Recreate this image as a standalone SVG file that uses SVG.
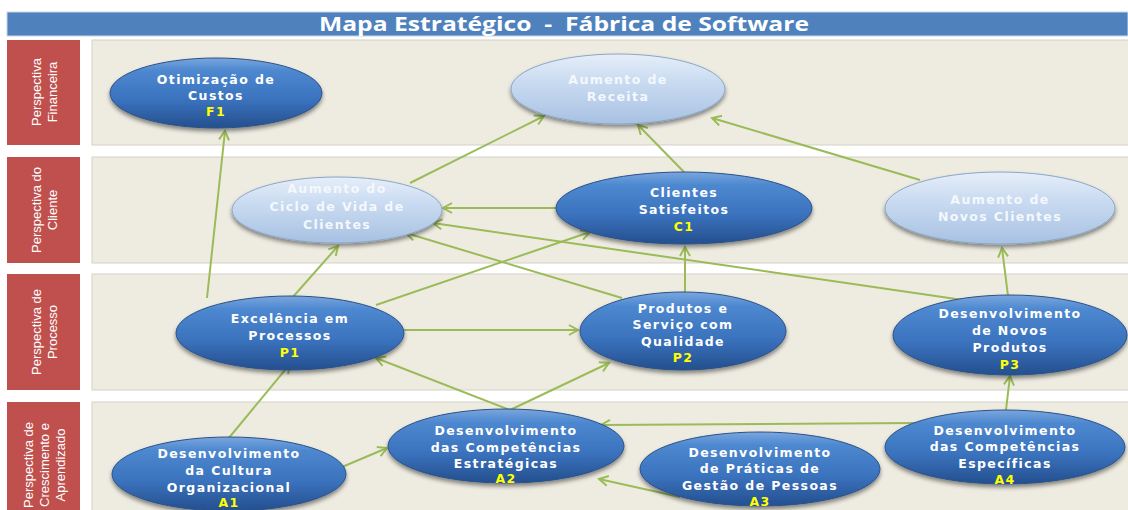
<svg xmlns="http://www.w3.org/2000/svg" width="1128" height="510" viewBox="0 0 1128 510">
<style>
.panel{fill:#eeece1;stroke:#d4d2c8;stroke-width:1}
.lab{fill:#c0504d}
.labt{font-family:"Liberation Sans Narrow","Liberation Sans",sans-serif;font-size:13px;fill:#ffffff;text-anchor:middle}
.dark{fill:url(#gDark);stroke:#2a5189;stroke-width:1;filter:url(#sh)}
.light{fill:url(#gLight);stroke:#8aa6c8;stroke-width:1;filter:url(#sh)}
.nt{font-family:"DejaVu Sans",Verdana,sans-serif;font-weight:bold;font-size:12.5px;letter-spacing:1.4px;fill:#ffffff;text-anchor:middle}
.lt{fill:#f4f8fd}
.code{fill:#ffff00}
.c{stroke:#9bbb59;stroke-width:2;fill:none;marker-end:url(#ah)}
</style>
<defs>
<linearGradient id="gDark" x1="0" y1="0" x2="0" y2="1">
<stop offset="0" stop-color="#7aa6dd"/>
<stop offset="0.18" stop-color="#4d88d0"/>
<stop offset="0.6" stop-color="#3a72bd"/>
<stop offset="1" stop-color="#244f8e"/>
</linearGradient>
<linearGradient id="gLight" x1="0" y1="0" x2="0" y2="1">
<stop offset="0" stop-color="#e6eef9"/>
<stop offset="0.4" stop-color="#c9dbf1"/>
<stop offset="1" stop-color="#a8c1e2"/>
</linearGradient>
<filter id="sh" x="-10%" y="-10%" width="120%" height="140%">
<feDropShadow dx="0" dy="3" stdDeviation="2" flood-color="#000" flood-opacity="0.45"/>
</filter>
<marker id="ah" markerUnits="userSpaceOnUse" markerWidth="14" markerHeight="14" refX="10" refY="6" orient="auto">
<path d="M1,1 L10,6 L1,11" fill="none" stroke="#9bbb59" stroke-width="2"/>
</marker>
</defs>
<rect width="1128" height="510" fill="#ffffff"/>
<g id="title">
<rect x="7" y="12" width="1121" height="24" fill="#4f81bd" stroke="#c9d6e8" stroke-width="1"/>
<text x="564" y="31" font-family="'Open Sans',sans-serif" font-weight="bold" font-size="20" fill="#ffffff" text-anchor="middle" textLength="490" lengthAdjust="spacingAndGlyphs" xml:space="preserve">Mapa Estratégico  -  Fábrica de Software</text>
</g>
<g id="rows">
<rect class="panel" x="92" y="40" width="1040" height="105"/>
<rect class="panel" x="92" y="157" width="1040" height="106"/>
<rect class="panel" x="92" y="274" width="1040" height="116"/>
<rect class="panel" x="92" y="402" width="1040" height="120"/>
</g>
<g id="label-financeira">
<rect class="lab" x="7" y="40" width="73" height="105"/>
<text class="labt" transform="translate(43.5,92) rotate(-90)"><tspan x="0" y="-3">Perspectiva</tspan><tspan x="0" y="13">Financeira</tspan></text>
</g>
<g id="label-cliente">
<rect class="lab" x="7" y="157" width="73" height="106"/>
<text class="labt" transform="translate(43.5,210) rotate(-90)"><tspan x="0" y="-3">Perspectiva do</tspan><tspan x="0" y="13">Cliente</tspan></text>
</g>
<g id="label-processo">
<rect class="lab" x="7" y="274" width="73" height="116"/>
<text class="labt" transform="translate(43.5,332) rotate(-90)"><tspan x="0" y="-3">Perspectiva de</tspan><tspan x="0" y="13">Processo</tspan></text>
</g>
<g id="label-aprendizado">
<rect class="lab" x="7" y="402" width="73" height="120"/>
<text class="labt" transform="translate(43.5,465) rotate(-90)"><tspan x="0" y="-11">Perspectiva de</tspan><tspan x="0" y="5">Crescimento e</tspan><tspan x="0" y="21">Aprendizado</tspan></text>
</g>
<g id="connectors">
<line class="c" x1="207" y1="298" x2="225" y2="131"/>
<line class="c" x1="410" y1="183" x2="544" y2="116"/>
<line class="c" x1="684" y1="172" x2="638" y2="125"/>
<line class="c" x1="920" y1="180" x2="712" y2="118"/>
<line class="c" x1="556" y1="208" x2="443" y2="208"/>
<line class="c" x1="963" y1="300" x2="433" y2="223"/>
<line class="c" x1="622" y1="298" x2="406" y2="233"/>
<line class="c" x1="292" y1="298" x2="338" y2="246"/>
<line class="c" x1="376" y1="305" x2="590" y2="232"/>
<line class="c" x1="685" y1="293" x2="685" y2="247"/>
<line class="c" x1="1008" y1="296" x2="1002" y2="248"/>
<line class="c" x1="404" y1="330" x2="578" y2="330"/>
<line class="c" x1="228" y1="439" x2="290" y2="364"/>
<line class="c" x1="342" y1="467" x2="387" y2="448"/>
<line class="c" x1="510" y1="410" x2="376" y2="358"/>
<line class="c" x1="510" y1="410" x2="609" y2="363"/>
<line class="c" x1="1006" y1="410" x2="1010" y2="376"/>
<line class="c" x1="918" y1="423" x2="601" y2="425"/>
<line class="c" x1="680" y1="497" x2="599" y2="479"/>
</g>
<g id="F1">
<ellipse class="dark" cx="216" cy="93" rx="106" ry="35"/>
<text class="nt"><tspan x="216" y="84">Otimização de</tspan><tspan x="216" y="100">Custos</tspan><tspan class="code" x="216" y="116">F1</tspan></text>
</g>
<g id="receita">
<ellipse class="light" cx="618" cy="89" rx="107" ry="35"/>
<text class="nt lt"><tspan x="618" y="84">Aumento de</tspan><tspan x="618" y="101">Receita</tspan></text>
</g>
<g id="ciclo">
<ellipse class="light" cx="337" cy="210" rx="105" ry="33"/>
<text class="nt lt"><tspan x="337" y="193">Aumento do</tspan><tspan x="337" y="211">Ciclo de Vida de</tspan><tspan x="337" y="229">Clientes</tspan></text>
</g>
<g id="C1">
<ellipse class="dark" cx="684" cy="208" rx="128" ry="36"/>
<text class="nt"><tspan x="684" y="197">Clientes</tspan><tspan x="684" y="214">Satisfeitos</tspan><tspan class="code" x="684" y="231">C1</tspan></text>
</g>
<g id="novos-clientes">
<ellipse class="light" cx="1000" cy="208" rx="115" ry="36"/>
<text class="nt lt"><tspan x="1000" y="204">Aumento de</tspan><tspan x="1000" y="221">Novos Clientes</tspan></text>
</g>
<g id="P1">
<ellipse class="dark" cx="290" cy="333" rx="114" ry="37"/>
<text class="nt"><tspan x="290" y="323">Excelência em</tspan><tspan x="290" y="340">Processos</tspan><tspan class="code" x="290" y="357">P1</tspan></text>
</g>
<g id="P2">
<ellipse class="dark" cx="683" cy="331" rx="103" ry="39"/>
<text class="nt"><tspan x="683" y="313">Produtos e</tspan><tspan x="683" y="329">Serviço com</tspan><tspan x="683" y="346">Qualidade</tspan><tspan class="code" x="683" y="362">P2</tspan></text>
</g>
<g id="P3">
<ellipse class="dark" cx="1010" cy="335" rx="117" ry="40"/>
<text class="nt"><tspan x="1010" y="318">Desenvolvimento</tspan><tspan x="1010" y="335">de Novos</tspan><tspan x="1010" y="352">Produtos</tspan><tspan class="code" x="1010" y="369">P3</tspan></text>
</g>
<g id="A1">
<ellipse class="dark" cx="229" cy="474" rx="117" ry="37"/>
<text class="nt"><tspan x="229" y="458">Desenvolvimento</tspan><tspan x="229" y="475">da Cultura</tspan><tspan x="229" y="492">Organizacional</tspan><tspan class="code" x="229" y="507">A1</tspan></text>
</g>
<g id="A2">
<ellipse class="dark" cx="506" cy="446" rx="118" ry="37"/>
<text class="nt"><tspan x="506" y="435">Desenvolvimento</tspan><tspan x="506" y="452">das Competências</tspan><tspan x="506" y="468">Estratégicas</tspan><tspan class="code" x="506" y="483">A2</tspan></text>
</g>
<g id="A3">
<ellipse class="dark" cx="760" cy="469" rx="120" ry="37"/>
<text class="nt"><tspan x="760" y="457">Desenvolvimento</tspan><tspan x="760" y="473">de Práticas de</tspan><tspan x="760" y="490">Gestão de Pessoas</tspan><tspan class="code" x="760" y="506">A3</tspan></text>
</g>
<g id="A4">
<ellipse class="dark" cx="1005" cy="447" rx="120" ry="37"/>
<text class="nt"><tspan x="1005" y="435">Desenvolvimento</tspan><tspan x="1005" y="451">das Competências</tspan><tspan x="1005" y="468">Específicas</tspan><tspan class="code" x="1005" y="484">A4</tspan></text>
</g>
</svg>
